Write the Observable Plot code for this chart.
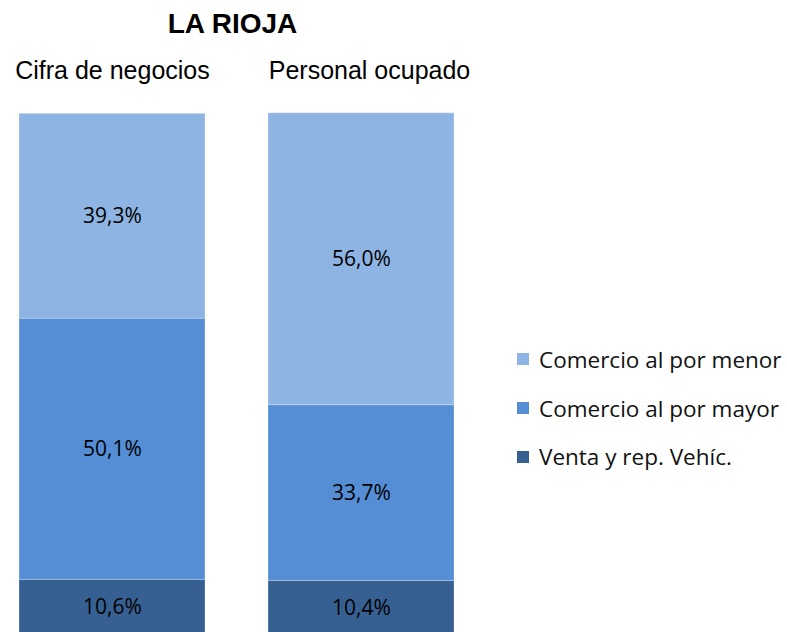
<!DOCTYPE html>
<html>
<head>
<meta charset="utf-8">
<script src="https://cdn.jsdelivr.net/npm/d3@7"></script>
<script src="https://cdn.jsdelivr.net/npm/@observablehq/plot@0.6"></script>
<style>
  html, body { margin: 0; padding: 0; background: #fff; }
  #wrap { position: relative; width: 787px; height: 632px; overflow: hidden; background: #fff; }
  #chart { position: absolute; left: 0; top: 0; }
  #chart svg { display: block; }
  #title { position: absolute; left: 0; top: 9.6px; width: 465px; text-align: center;
           font: bold 28px "Liberation Sans", Arial, sans-serif; line-height: 28px; color: #000; }
  #legend { position: absolute; left: 517px; top: 335px; }
  #legend .lg-swatches { margin: 0; font: 22.5px "Open Sans", sans-serif; color: #111; columns: auto !important; }
  #legend .lg-swatch { display: flex; align-items: center; height: 48.7px; padding: 0; margin: 0; }
  #legend .lg-swatch > svg { margin-right: 10px; flex-shrink: 0; }
  #legend .lg-swatch-label { white-space: nowrap; }
</style>
</head>
<body>
<div id="wrap">
  <div id="chart"></div>
  <div id="title"></div>
  <div id="legend"></div>
</div>
<script>
const title = "LA RIOJA";
const metrics = ["Cifra de negocios", "Personal ocupado"];
const sectors = ["Comercio al por menor", "Comercio al por mayor", "Venta y rep. Vehíc."];
const colors = ["#8EB4E3", "#558ED5", "#376092"];
// stacking order bottom-up: Venta, Mayor, Menor
const stackOrder = ["Venta y rep. Vehíc.", "Comercio al por mayor", "Comercio al por menor"];
const cifraValues = [10.6, 50.1, 39.3];
const personalValues = [10.4, 33.7, 56.0];

const data = [];
stackOrder.forEach((s, i) => data.push({metric: metrics[0], sector: s, value: cifraValues[i]}));
stackOrder.forEach((s, i) => data.push({metric: metrics[1], sector: s, value: personalValues[i]}));

const fmt = v => v.toFixed(1).replace(".", ",") + "%";

document.getElementById("title").textContent = title;

const chart = Plot.plot({
  width: 787,
  height: 632,
  marginTop: 113.3,
  marginBottom: 0,
  marginLeft: 0,
  marginRight: 0,
  style: {background: "#fff", overflow: "hidden"},
  x: {domain: metrics, range: [19, 455], paddingInner: 0.252, paddingOuter: 0, axis: null},
  y: {domain: [0, 100], range: [634.6, 113.3], axis: null},
  color: {domain: sectors, range: colors},
  marks: [
    Plot.barY(data, Plot.stackY({x: "metric", y: "value", fill: "sector", inset: 0,
      stroke: "#fff", strokeOpacity: 0.25, strokeWidth: 1})),
    Plot.text(data, Plot.stackY({x: "metric", y: "value", text: d => fmt(d.value),
      fill: "#000", fontSize: 21, fontFamily: "Open Sans, sans-serif"})),
    Plot.text([metrics[0]], {x: d => d, text: d => d, frameAnchor: "top", lineAnchor: "bottom",
      dy: -35, fontSize: 25, fontFamily: "Liberation Sans, Arial, sans-serif", fill: "#000"}),
    Plot.text([metrics[1]], {x: d => d, text: d => d, frameAnchor: "top", lineAnchor: "bottom",
      dy: -35, dx: 8, fontSize: 25, fontFamily: "Liberation Sans, Arial, sans-serif", fill: "#000"})
  ]
});
document.getElementById("chart").appendChild(chart);

const legend = Plot.legend({
  color: {domain: sectors, range: colors},
  legend: "swatches",
  columns: 1,
  swatchSize: 12,
  className: "lg"
});
document.getElementById("legend").appendChild(legend);
</script>
</body>
</html>
